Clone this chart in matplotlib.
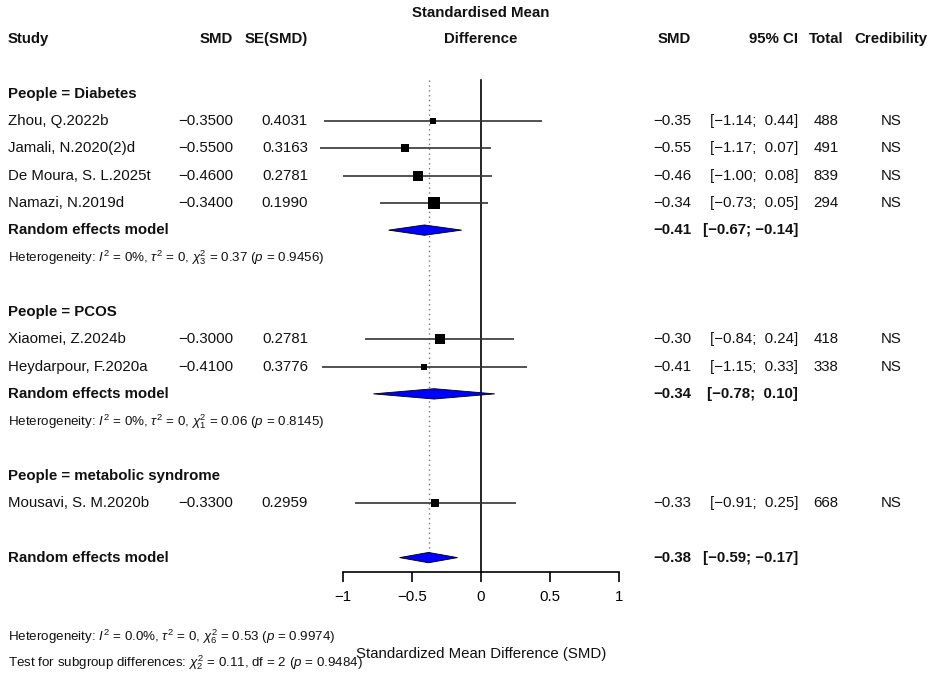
import matplotlib
matplotlib.use("Agg")
import matplotlib.pyplot as plt
import matplotlib.transforms as mtransforms
from matplotlib.patches import Polygon

plt.rcParams['font.family'] = ['Liberation Sans', 'DejaVu Sans']
plt.rcParams['mathtext.fontset'] = 'custom'
plt.rcParams['mathtext.rm'] = 'Liberation Sans'
plt.rcParams['mathtext.it'] = 'Liberation Sans:italic'
plt.rcParams['mathtext.bf'] = 'Liberation Sans:bold'

# ---------------- data ----------------
groups = ["Diabetes", "PCOS", "metabolic syndrome"]
studies = ["Zhou, Q.2022b", "Jamali, N.2020(2)d", "De Moura, S. L.2025t", "Namazi, N.2019d",
           "Xiaomei, Z.2024b", "Heydarpour, F.2020a", "Mousavi, S. M.2020b"]
study_group = [0, 0, 0, 0, 1, 1, 2]
smd = [-0.35, -0.55, -0.46, -0.34, -0.30, -0.41, -0.33]
se = [0.4031, 0.3163, 0.2781, 0.1990, 0.2781, 0.3776, 0.2959]
ci_low = [-1.14, -1.17, -1.00, -0.73, -0.84, -1.15, -0.91]
ci_high = [0.44, 0.07, 0.08, 0.05, 0.24, 0.33, 0.25]
total = [488, 491, 839, 294, 418, 338, 668]
credibility = ["NS", "NS", "NS", "NS", "NS", "NS", "NS"]

sub_smd = [-0.41, -0.34, None]
sub_low = [-0.67, -0.78, None]
sub_high = [-0.14, 0.10, None]
sub_het = [r"Heterogeneity: $I^2$ = 0%, $\tau^2$ = 0, $\chi^2_3$ = 0.37 ($p$ = 0.9456)",
           r"Heterogeneity: $I^2$ = 0%, $\tau^2$ = 0, $\chi^2_1$ = 0.06 ($p$ = 0.8145)",
           None]

overall_smd = -0.38
overall_low = -0.59
overall_high = -0.17
overall_het = r"Heterogeneity: $I^2$ = 0.0%, $\tau^2$ = 0, $\chi^2_6$ = 0.53 ($p$ = 0.9974)"
subgroup_test = r"Test for subgroup differences: $\chi^2_2$ = 0.11, df = 2 ($p$ = 0.9484)"

xticks = [-1, -0.5, 0, 0.5, 1]
xtick_labels = ["\u22121", "\u22120.5", "0", "0.5", "1"]
xlabel = "Standardized Mean Difference (SMD)"

# ---------------- layout ----------------
W, H = 935, 683
FS = 10.8
FS_SMALL = 9.6
fig = plt.figure(figsize=(W / 100, H / 100), dpi=100)
row_px = 27.29
row0_px = 39.1
ax_left, ax_right, ax_bottom_px = 343, 619, 572
ax = fig.add_axes([ax_left / W, 1 - ax_bottom_px / H, (ax_right - ax_left) / W, ax_bottom_px / H])
ax.set_xlim(-1, 1)
ax.set_ylim((ax_bottom_px - row0_px) / row_px, (0 - row0_px) / row_px)
for s in ["top", "left", "right"]:
    ax.spines[s].set_visible(False)
ax.spines["bottom"].set_linewidth(1.2)
ax.set_yticks([])
ax.set_xticks(xticks)
ax.set_xticklabels(xtick_labels, fontsize=FS)
ax.tick_params(axis="x", direction="out", length=7, width=1.2, pad=6)
ax.patch.set_visible(False)

trans = mtransforms.blended_transform_factory(fig.transFigure, ax.transData)

def fx(px):
    return px / W

def txt(px, row, s, ha="left", bold=False, size=FS, color="#111111"):
    ax.text(fx(px), row, s, transform=trans, ha=ha, va="center", fontsize=size,
            fontweight="bold" if bold else "normal", color=color, clip_on=False)

x_study, x_smd, x_se, x_mid = 8, 233, 308, 481
x_smd2, x_ci, x_tot, x_cred = 691, 798, 826, 891

def fmt(v, d):
    return f"{v:.{d}f}".replace("-", "\u2212")

def ci_str(lo, hi):
    lo_s = fmt(lo, 2)
    hi_s = fmt(hi, 2)
    if hi >= 0:
        hi_s = " " + hi_s
    return f"[{lo_s}; {hi_s}]"

# headers
txt(x_mid, -0.95, "Standardised Mean", ha="center", bold=True)
txt(x_study, 0, "Study", bold=True)
txt(x_smd, 0, "SMD", ha="right", bold=True)
txt(x_se, 0, "SE(SMD)", ha="right", bold=True)
txt(x_mid, 0, "Difference", ha="center", bold=True)
txt(x_smd2, 0, "SMD", ha="right", bold=True)
txt(x_ci, 0, "95% CI", ha="right", bold=True)
txt(x_tot, 0, "Total", ha="center", bold=True)
txt(x_cred, 0, "Credibility", ha="center", bold=True)

diamond_h = 0.19

def diamond(center, lo, hi, row):
    poly = Polygon([[lo, row], [center, row - diamond_h], [hi, row], [center, row + diamond_h]],
                   closed=True, facecolor="#0000ff", edgecolor="black", linewidth=0.6, zorder=4,
                   clip_on=False)
    ax.add_patch(poly)

row = 2
last_row = row
for g, gname in enumerate(groups):
    txt(x_study, row, f"People = {gname}", bold=True)
    idx = [i for i, sg in enumerate(study_group) if sg == g]
    r = row
    for i in idx:
        r += 1
        txt(x_study, r, studies[i])
        txt(x_smd, r, fmt(smd[i], 4), ha="right")
        txt(x_se, r, fmt(se[i], 4), ha="right")
        txt(x_smd2, r, fmt(smd[i], 2), ha="right")
        txt(x_ci, r, ci_str(ci_low[i], ci_high[i]), ha="right")
        txt(x_tot, r, str(total[i]), ha="center")
        txt(x_cred, r, credibility[i], ha="center")
        ax.plot([ci_low[i], ci_high[i]], [r, r], color="#333333", lw=1.2, zorder=3,
                solid_capstyle="butt", clip_on=False)
        ax.plot([smd[i]], [r], marker="s", color="black", markersize=1.85 / se[i],
                markeredgewidth=0, zorder=5, clip_on=False)
    if sub_smd[g] is not None:
        r += 1
        txt(x_study, r, "Random effects model", bold=True)
        txt(x_smd2, r, fmt(sub_smd[g], 2), ha="right", bold=True)
        txt(x_ci, r, ci_str(sub_low[g], sub_high[g]), ha="right", bold=True)
        diamond(sub_smd[g], sub_low[g], sub_high[g], r)
        r += 1
        txt(x_study, r, sub_het[g], size=FS_SMALL)
    last_row = r
    row = r + 2

overall_row = last_row + 2
txt(x_study, overall_row, "Random effects model", bold=True)
txt(x_smd2, overall_row, fmt(overall_smd, 2), ha="right", bold=True)
txt(x_ci, overall_row, ci_str(overall_low, overall_high), ha="right", bold=True)
diamond(overall_smd, overall_low, overall_high, overall_row)

# reference lines
top_row = 1.5
ax.plot([0, 0], [top_row, ax.get_ylim()[0]], color="black", lw=1.2, zorder=2)
ax.plot([overall_smd, overall_smd], [top_row, overall_row - diamond_h], color="#777777",
        lw=1.0, ls=(0, (1, 2.5)), zorder=1)

# bottom texts
fig.text(fx(x_study), 1 - 637 / H, overall_het, fontsize=FS_SMALL, va="center", ha="left",
         color="#111111")
fig.text(fx(x_study), 1 - 663 / H, subgroup_test, fontsize=FS_SMALL, va="center", ha="left",
         color="#111111")
fig.text(fx(x_mid), 1 - 654 / H, xlabel, fontsize=FS, va="center", ha="center", color="#111111")

fig.savefig("out.png", dpi=100)
